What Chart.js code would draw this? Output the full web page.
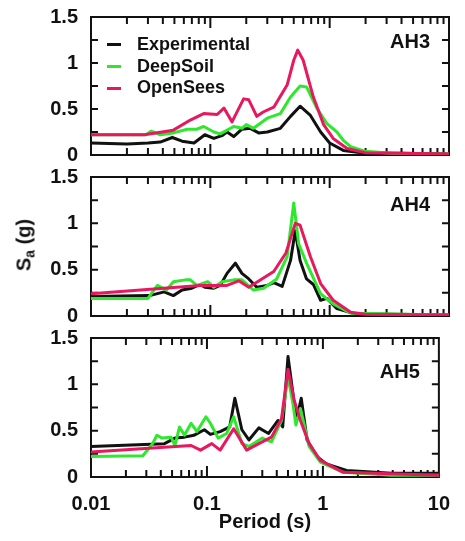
<!DOCTYPE html>
<html>
<head>
<meta charset="utf-8">
<script src="https://cdn.jsdelivr.net/npm/chart.js@4.4.1/dist/chart.umd.min.js"></script>
<style>
  html, body { margin: 0; padding: 0; background: #fff; }
  #wrap { position: relative; width: 465px; height: 541px; }
  #wrap canvas { position: absolute; left: 0; top: 0; }
  #ylabel {
    position: absolute; left: 25px; top: 245px;
    transform: translate(-50%, -50%) rotate(-90deg);
    font: bold 20px "Liberation Sans", Arial, sans-serif; color: #111;
    white-space: nowrap;
  }
  #ylabel sub { font-size: 14px; vertical-align: -4px; }
  #legend {
    position: absolute; left: 107px; top: 34px; margin: 0; padding: 0; list-style: none;
    font: bold 18px "Liberation Sans", Arial, sans-serif; color: #111;
  }
  #legend li { height: 21.7px; line-height: 21.7px; display: flex; align-items: center; }
  #legend span.box { display: inline-block; width: 14px; height: 3px; margin-right: 16px; }
</style>
</head>
<body>
<div id="wrap">
  <canvas id="c1" width="465" height="541"></canvas>
  <canvas id="c2" width="465" height="541"></canvas>
  <canvas id="c3" width="465" height="541"></canvas>
  <div id="ylabel">S<sub>a</sub> (g)</div>
  <ul id="legend"></ul>
</div>
<script>
const FONT = '"Liberation Sans", Arial, sans-serif';
const seriesNames = ["Experimental", "DeepSoil", "OpenSees"];
const seriesColors = ["#111111", "#2ee82e", "#e8185e"];
const xTicks = [0.01, 0.1, 1, 10];
const yTicks = [0, 0.5, 1, 1.5];
const minorMult = [2, 3, 4, 5, 6, 7, 8, 9];

// AH3
const ah3ExpT  = [0.01,0.02,0.03,0.038,0.048,0.058,0.073,0.09,0.107,0.125,0.138,0.157,0.184,0.216,0.254,0.3,0.386,0.47,0.565,0.69,0.84,1.0,1.3,2.0,4,10];
const ah3ExpSa = [0.13,0.12,0.13,0.14,0.19,0.15,0.13,0.22,0.18,0.21,0.25,0.2,0.28,0.29,0.24,0.25,0.29,0.42,0.53,0.43,0.25,0.13,0.05,0.02,0.02,0.01];
const ah3DsT   = [0.01,0.029,0.032,0.038,0.049,0.064,0.077,0.088,0.107,0.121,0.157,0.184,0.2,0.23,0.3,0.386,0.47,0.565,0.64,0.78,0.95,1.15,1.3,1.5,2.0,4,10];
const ah3DsSa  = [0.22,0.22,0.26,0.22,0.24,0.28,0.28,0.31,0.25,0.23,0.31,0.29,0.33,0.29,0.40,0.45,0.63,0.75,0.74,0.51,0.34,0.25,0.16,0.09,0.04,0.01,0.01];
const ah3OsT   = [0.01,0.028,0.049,0.068,0.088,0.114,0.13,0.152,0.19,0.21,0.245,0.28,0.34,0.44,0.5,0.54,0.6,0.73,0.89,1.07,1.4,2.0,10];
const ah3OsSa  = [0.22,0.22,0.27,0.38,0.45,0.44,0.51,0.36,0.61,0.60,0.42,0.47,0.52,0.76,1.03,1.14,1.03,0.63,0.33,0.18,0.07,0.025,0.01];

// AH4
const ah4ExpT  = [0.01,0.031,0.041,0.049,0.058,0.07,0.082,0.09,0.107,0.121,0.138,0.162,0.184,0.21,0.245,0.3,0.34,0.4,0.47,0.515,0.565,0.64,0.73,0.84,0.95,1.15,1.6,10];
const ah4ExpSa = [0.21,0.22,0.26,0.22,0.28,0.30,0.34,0.31,0.30,0.33,0.46,0.57,0.46,0.40,0.31,0.33,0.36,0.32,0.60,0.92,0.60,0.40,0.34,0.17,0.19,0.08,0.025,0.01];
const ah4DsT   = [0.01,0.03,0.036,0.043,0.049,0.062,0.068,0.077,0.095,0.107,0.125,0.157,0.184,0.23,0.28,0.36,0.44,0.5,0.55,0.64,0.84,1.07,1.5,10];
const ah4DsSa  = [0.19,0.19,0.33,0.28,0.37,0.39,0.39,0.33,0.37,0.31,0.37,0.39,0.39,0.28,0.30,0.40,0.64,1.22,0.78,0.57,0.24,0.13,0.03,0.01];
const ah4OsT   = [0.01,0.082,0.138,0.173,0.21,0.34,0.43,0.515,0.565,0.69,0.84,1.07,1.5,2,10];
const ah4OsSa  = [0.24,0.33,0.33,0.38,0.31,0.48,0.68,1.0,0.98,0.64,0.35,0.17,0.04,0.02,0.01];

// AH5
const ah5ExpT  = [0.01,0.043,0.053,0.064,0.077,0.095,0.107,0.13,0.157,0.174,0.2,0.23,0.28,0.34,0.41,0.45,0.5,0.565,0.6,0.65,0.73,0.89,1.07,1.6,3.9,10];
const ah5ExpSa = [0.33,0.36,0.42,0.43,0.45,0.51,0.46,0.49,0.54,0.85,0.51,0.40,0.53,0.47,0.61,0.54,1.30,0.80,0.65,0.85,0.40,0.22,0.14,0.07,0.04,0.04];
const ah5DsT   = [0.01,0.028,0.034,0.037,0.041,0.049,0.053,0.058,0.064,0.073,0.082,0.098,0.107,0.125,0.148,0.17,0.2,0.23,0.3,0.36,0.44,0.5,0.55,0.585,0.64,0.76,0.95,1.5,3.9,10];
const ah5DsSa  = [0.22,0.23,0.36,0.45,0.42,0.43,0.34,0.54,0.45,0.58,0.49,0.65,0.58,0.42,0.47,0.65,0.36,0.33,0.42,0.38,0.61,1.08,0.80,0.56,0.74,0.33,0.16,0.05,0.02,0.02];
const ah5OsT   = [0.01,0.073,0.088,0.11,0.13,0.17,0.22,0.28,0.36,0.44,0.5,0.565,0.64,0.76,0.95,1.5,10];
const ah5OsSa  = [0.27,0.34,0.29,0.36,0.29,0.52,0.29,0.36,0.43,0.63,1.16,0.83,0.61,0.36,0.18,0.05,0.02];

function pts(t, sa) {
  return t.map((v, i) => ({ x: v, y: sa[i] }));
}

// inward ticks, frame and panel name
const framePlugin = {
  id: 'frame',
  beforeDatasetsDraw(chart, args, opts) {
    const { ctx, chartArea: a, scales: { x, y } } = chart;
    ctx.save();
    ctx.strokeStyle = '#111';
    ctx.lineWidth = 2;
    ctx.beginPath();
    for (let d = 0; d < xTicks.length - 1; d++) {
      const decade = xTicks[d];
      minorMult.forEach(m => {
        const px = x.getPixelForValue(decade * m);
        ctx.moveTo(px, a.top); ctx.lineTo(px, a.top + 7);
        ctx.moveTo(px, a.bottom); ctx.lineTo(px, a.bottom - 7);
      });
      if (d > 0) {
        const px = x.getPixelForValue(decade);
        ctx.moveTo(px, a.top); ctx.lineTo(px, a.top + 11);
        ctx.moveTo(px, a.bottom); ctx.lineTo(px, a.bottom - 11);
      }
    }
    for (let v = 0.25; v < 1.5; v += 0.25) {
      const py = y.getPixelForValue(v);
      ctx.moveTo(a.left, py); ctx.lineTo(a.left + 7, py);
      ctx.moveTo(a.right, py); ctx.lineTo(a.right - 7, py);
    }
    ctx.stroke();
    ctx.strokeRect(a.left, a.top, a.right - a.left, a.bottom - a.top);

    ctx.fillStyle = '#111';
    ctx.font = 'bold 20px ' + FONT;
    ctx.textAlign = 'right';
    ctx.textBaseline = 'middle';
    ctx.fillText(opts.name, a.right - 19, a.top + opts.labelDy);
    ctx.restore();
  }
};

function makeChart(id, name, top, bottom, labelDy, isBottom, tArrs, saArrs) {
  const datasets = seriesNames.map((n, i) => ({
    label: n,
    data: pts(tArrs[i], saArrs[i]),
    borderColor: seriesColors[i],
    backgroundColor: seriesColors[i],
    borderWidth: 3,
    pointRadius: 0,
    tension: 0,
    borderJoinStyle: 'round',
    fill: false,
    order: 2 - i
  }));

  return new Chart(document.getElementById(id), {
    type: 'line',
    data: { datasets },
    plugins: [framePlugin],
    options: {
      responsive: false,
      animation: false,
      devicePixelRatio: 1,
      layout: { padding: { left: 0, right: 16, top: top, bottom: isBottom ? 0 : 541 - bottom } },
      scales: {
        x: {
          type: 'logarithmic',
          min: 0.01, max: 10,
          display: isBottom,
          afterBuildTicks: s => { s.ticks = xTicks.map(v => ({ value: v })); },
          afterFit: s => { s.height = isBottom ? 541 - bottom : 0; },
          grid: { display: false, drawTicks: false },
          border: { display: false },
          ticks: {
            padding: 15,
            maxRotation: 0,
            autoSkip: false,
            color: '#111',
            font: { family: FONT, size: 20, weight: 'bold' },
            callback: v => String(v)
          },
          title: {
            display: isBottom,
            text: 'Period (s)',
            color: '#111',
            font: { family: FONT, size: 20, weight: 'bold' },
            padding: { top: 0, bottom: 7 }
          }
        },
        y: {
          min: 0, max: 1.5,
          afterBuildTicks: s => { s.ticks = yTicks.map(v => ({ value: v })); },
          afterFit: s => { s.width = 91; },
          grid: { display: false, drawTicks: false },
          border: { display: false },
          ticks: {
            padding: 13,
            color: '#111',
            // small lineHeight keeps the top label from pushing the plot down
            font: { family: FONT, size: 20, weight: 'bold', lineHeight: 0.4 },
            callback: v => String(v)
          }
        }
      },
      plugins: {
        frame: { name: name, labelDy: labelDy },
        tooltip: { enabled: false },
        legend: { display: false }
      }
    }
  });
}

const chart1 = makeChart('c1', 'AH3', 17, 155, 25, false,
  [ah3ExpT, ah3DsT, ah3OsT], [ah3ExpSa, ah3DsSa, ah3OsSa]);
makeChart('c2', 'AH4', 177, 316, 28, false,
  [ah4ExpT, ah4DsT, ah4OsT], [ah4ExpSa, ah4DsSa, ah4OsSa]);
makeChart('c3', 'AH5', 338, 477, 34, true,
  [ah5ExpT, ah5DsT, ah5OsT], [ah5ExpSa, ah5DsSa, ah5OsSa]);

// html legend from the first panel's legend items
const legendItems = Chart.defaults.plugins.legend.labels.generateLabels(chart1)
  .sort((a, b) => a.datasetIndex - b.datasetIndex);
const ul = document.getElementById('legend');
legendItems.forEach(item => {
  const li = document.createElement('li');
  const box = document.createElement('span');
  box.className = 'box';
  box.style.background = item.strokeStyle;
  li.appendChild(box);
  li.appendChild(document.createTextNode(item.text));
  ul.appendChild(li);
});
</script>
</body>
</html>
